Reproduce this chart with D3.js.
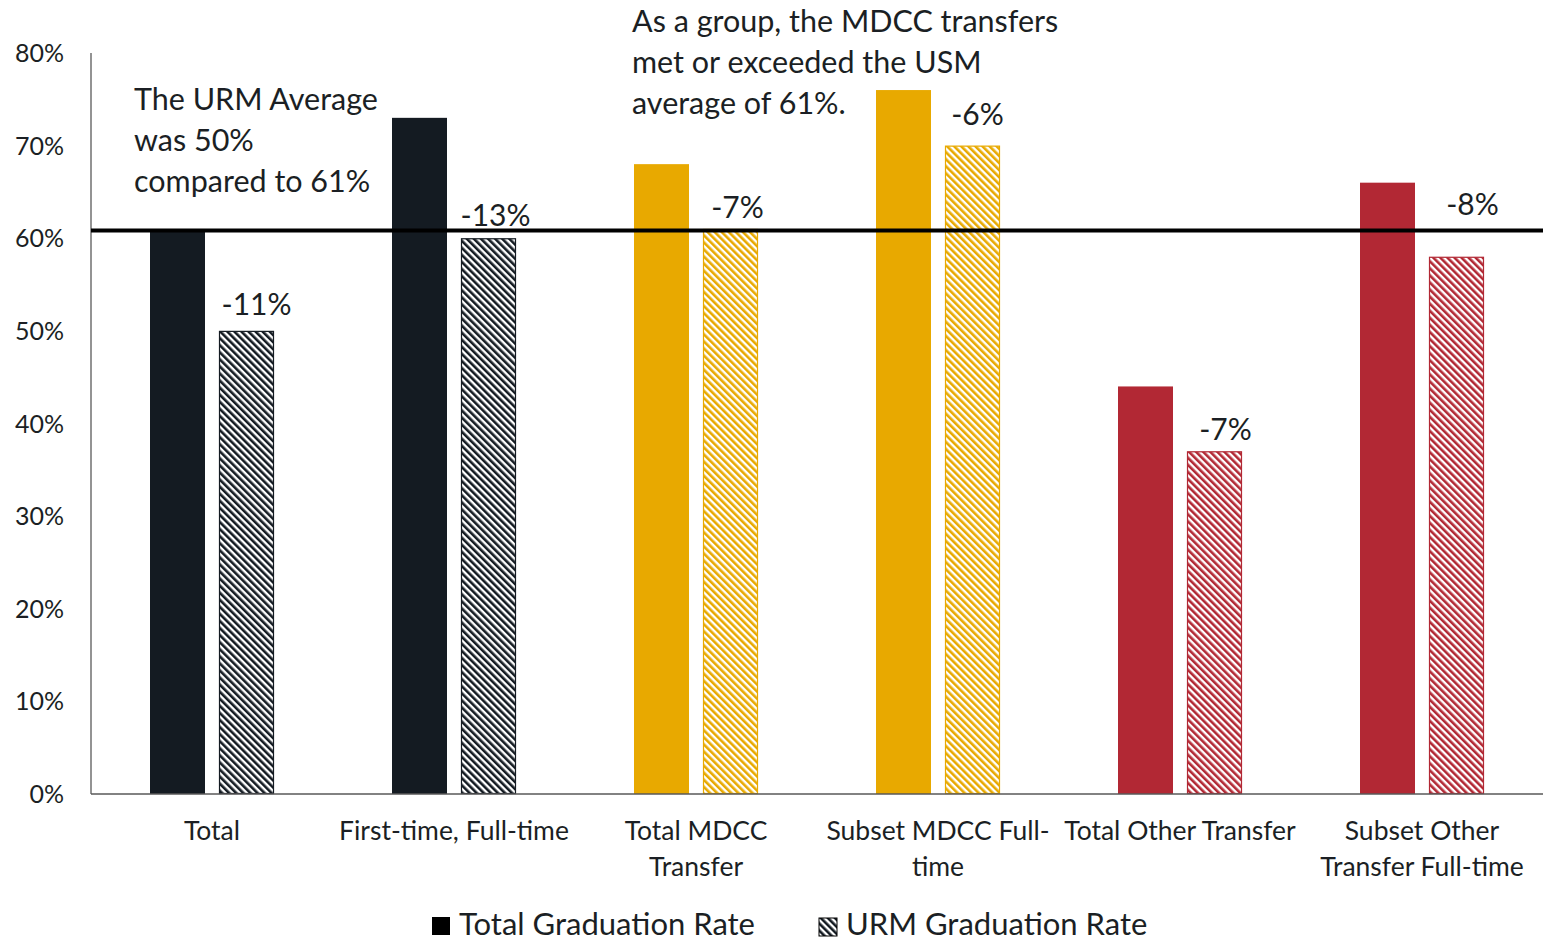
<!DOCTYPE html>
<meta charset="utf-8">
<style>
  body { margin: 0; background: #fff; }
  text { font-family: Lato, "Open Sans", sans-serif; fill: #1b1f24; }
</style>
<svg width="1543" height="941" id="chart"></svg>
<script src="https://d3js.org/d3.v7.min.js"></script>
<script>
var categories = [
  ["Total"],
  ["First-time, Full-time"],
  ["Total MDCC", "Transfer"],
  ["Subset MDCC Full-", "time"],
  ["Total Other Transfer"],
  ["Subset Other", "Transfer Full-time"]
];
var totalRate = [61, 73, 68, 76, 44, 66];
var urmRate = [50, 60, 61, 70, 37, 58];
var gapLabels = ["-11%", "-13%", "-7%", "-6%", "-7%", "-8%"];
var colors = ["#141b22", "#141b22", "#e8a900", "#e8a900", "#b22834", "#b22834"];
var usmAverage = 61;
var yTicks = [0, 10, 20, 30, 40, 50, 60, 70, 80];

var svg = d3.select("#chart");
var mLeft = 91, mRight = 1543, mTop = 53, mBottom = 794;

var x = d3.scaleBand().domain(d3.range(categories.length)).range([mLeft, mRight]);
var y = d3.scaleLinear().domain([0, 80]).range([mBottom, mTop]);
var barW = 55, gap = 14;
// hand-placed label nudges (as in the original chart)
var labelNudge = [[10, -16], [7, -12], [7, -11], [5, -21], [11, -11], [16, -42]];

// hatch patterns, one per colour
var defs = svg.append("defs");
var uniq = Array.from(new Set(colors));
uniq.forEach(function(c, i) {
  var p = defs.append("pattern")
    .attr("id", "hatch" + i)
    .attr("patternUnits", "userSpaceOnUse")
    .attr("width", 5).attr("height", 5)
    .attr("patternTransform", "rotate(-45)");
  p.append("rect").attr("width", 5).attr("height", 5).attr("fill", "#fff");
  p.append("rect").attr("width", 2.6).attr("height", 5).attr("fill", c);
});
function hatch(c) { return "url(#hatch" + uniq.indexOf(c) + ")"; }

// y axis
svg.append("line").attr("x1", mLeft).attr("x2", mLeft).attr("y1", mTop).attr("y2", mBottom)
  .attr("stroke", "#595959").attr("stroke-width", 1.3);
svg.selectAll(".ytick").data(yTicks).enter().append("text")
  .attr("x", 64).attr("y", d => y(d) + 9)
  .attr("text-anchor", "end")
  .style("font-size", "25px")
  .text(d => d + "%");

// bars
var g = svg.selectAll(".cat").data(categories).enter().append("g");
g.append("rect")
  .attr("x", (d, i) => x(i) + x.bandwidth() / 2 - gap / 2 - barW)
  .attr("y", (d, i) => y(totalRate[i]))
  .attr("width", barW)
  .attr("height", (d, i) => y(0) - y(totalRate[i]))
  .attr("fill", (d, i) => colors[i]);
g.append("rect")
  .attr("x", (d, i) => x(i) + x.bandwidth() / 2 + gap / 2 + 0.5)
  .attr("y", (d, i) => y(urmRate[i]) + 0.5)
  .attr("width", barW - 1)
  .attr("height", (d, i) => y(0) - y(urmRate[i]) - 1)
  .attr("fill", (d, i) => hatch(colors[i]))
  .attr("stroke", (d, i) => colors[i])
  .attr("stroke-width", 1.2);
g.append("text")
  .attr("x", (d, i) => x(i) + x.bandwidth() / 2 + gap / 2 + barW / 2 + labelNudge[i][0])
  .attr("y", (d, i) => y(urmRate[i]) + labelNudge[i][1])
  .attr("text-anchor", "middle")
  .style("font-size", "30px")
  .text((d, i) => gapLabels[i]);

// category labels
g.each(function(d, i) {
  var t = d3.select(this).append("text")
    .attr("text-anchor", "middle")
    .style("font-size", "26.5px");
  d.forEach(function(line, j) {
    t.append("tspan").attr("x", x(i) + x.bandwidth() / 2).attr("y", 840 + j * 36).text(line);
  });
});

// x axis
svg.append("line").attr("x1", mLeft).attr("x2", mRight).attr("y1", mBottom).attr("y2", mBottom)
  .attr("stroke", "#595959").attr("stroke-width", 1.3);

// USM average line
svg.append("line").attr("x1", mLeft).attr("x2", mRight)
  .attr("y1", y(usmAverage) + 1.5).attr("y2", y(usmAverage) + 1.5)
  .attr("stroke", "#000").attr("stroke-width", 4);

// annotations
function note(lines, x0, y0) {
  var t = svg.append("text").style("font-size", "30.5px");
  lines.forEach(function(l, j) {
    t.append("tspan").attr("x", x0).attr("y", y0 + j * 41).text(l);
  });
}
note(["The URM Average", "was 50%", "compared to 61%"], 134, 110);
note(["As a group, the MDCC transfers", "met or exceeded the USM", "average of 61%."], 632, 32);

// legend
svg.append("rect").attr("x", 432).attr("y", 917).attr("width", 18).attr("height", 18).attr("fill", "#000");
svg.append("text").attr("x", 459).attr("y", 935).style("font-size", "31px").text("Total Graduation Rate");
svg.append("rect").attr("x", 819).attr("y", 918).attr("width", 18).attr("height", 18)
  .attr("fill", hatch(colors[0])).attr("stroke", "#000").attr("stroke-width", 1);
svg.append("text").attr("x", 846).attr("y", 935).style("font-size", "31px").text("URM Graduation Rate");
</script>
